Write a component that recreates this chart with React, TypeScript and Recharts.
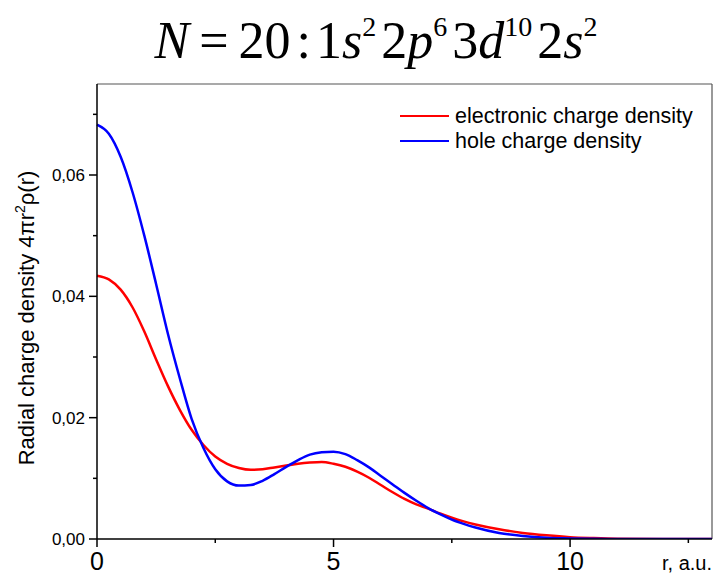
import * as React from 'react';
import { LineChart, Line, XAxis, YAxis, ReferenceLine } from 'recharts';

// r in atomic units
const radius = [
  0, 0.25, 0.5, 0.75, 1, 1.25, 1.5, 1.75, 2, 2.25, 2.5, 2.75, 3, 3.25, 3.5, 3.75,
  4, 4.25, 4.5, 4.75, 5, 5.25, 5.5, 5.75, 6, 6.25, 6.5, 6.75, 7, 7.25, 7.5, 7.75,
  8, 8.5, 9, 9.5, 10, 10.5, 11, 12, 13,
];

const electronDensity = [
  0.0434, 0.0428, 0.0411, 0.0382, 0.0342, 0.0296, 0.0252, 0.0213, 0.018, 0.0155, 0.0136, 0.0124,
  0.0117, 0.0114, 0.0115, 0.0118, 0.0121, 0.0124, 0.0126, 0.0127, 0.0124, 0.0119, 0.0111,
  0.0101, 0.0089, 0.0077, 0.0066, 0.0057, 0.005, 0.0042, 0.0035, 0.0029, 0.0024, 0.0016,
  0.001, 0.0006, 0.0003, 0.00015, 0.00005, 0, 0,
];

const holeDensity = [
  0.0683, 0.0668, 0.063, 0.0572, 0.05, 0.042, 0.0338, 0.0265, 0.0198, 0.015, 0.0115, 0.0095,
  0.0088, 0.0089, 0.0096, 0.0107, 0.0119, 0.013, 0.0139, 0.0143, 0.0144, 0.014, 0.013,
  0.0118, 0.0104, 0.009, 0.0076, 0.0063, 0.0051, 0.0041, 0.0032, 0.0025, 0.0019, 0.001,
  0.0005, 0.0002, 0.0001, 0.00003, 0, 0, 0,
];

const xTicks = [0, 2.5, 5, 7.5, 10, 12.5];
const yTicks = [0, 0.01, 0.02, 0.03, 0.04, 0.05, 0.06, 0.07];

const data = radius.map((r, i) => ({ r, electron: electronDensity[i], hole: holeDensity[i] }));

const FONT = '"Liberation Sans", Arial, sans-serif';
const SERIF = '"Liberation Serif", "Times New Roman", serif';

const XTick = ({ x, y, payload }: any) => {
  const major = payload.value % 5 === 0;
  return (
    <g>
      <line x1={x} y1={y} x2={x} y2={y + (major ? 8 : 4)} stroke="#000" strokeWidth={1.5} />
      {major && (
        <text x={x} y={y + 31} textAnchor="middle" fontSize={25} fontFamily={FONT} fill="#000">
          {payload.value}
        </text>
      )}
    </g>
  );
};

const YTick = ({ x, y, payload }: any) => {
  const major = Math.round(payload.value * 100) % 2 === 0;
  return (
    <g>
      <line x1={x - (major ? 8 : 4)} y1={y} x2={x} y2={y} stroke="#000" strokeWidth={1.5} />
      {major && (
        <text x={x - 12} y={y + 6} textAnchor="end" fontSize={17} fontFamily={FONT} fill="#000">
          {payload.value.toFixed(2).replace('.', ',')}
        </text>
      )}
    </g>
  );
};

export default function App() {
  return (
    <div style={{ position: 'absolute', left: 0, top: 0, width: 717, height: 576, background: '#fff' }}>
      <svg width={717} height={80} style={{ position: 'absolute', left: 0, top: 0 }}>
        <text x={376} y={58} textAnchor="middle" fontFamily={SERIF} fontSize={52} fill="#000">
          <tspan fontStyle="italic">N</tspan>
          <tspan dx={10}>=</tspan>
          <tspan dx={10}>20</tspan>
          <tspan dx={6}>:</tspan>
          <tspan dx={5}>1</tspan>
          <tspan fontStyle="italic">s</tspan>
          <tspan fontSize={28} dy={-22}>2</tspan>
          <tspan dy={22} dx={5}>2</tspan>
          <tspan fontStyle="italic">p</tspan>
          <tspan fontSize={28} dy={-22}>6</tspan>
          <tspan dy={22} dx={5}>3</tspan>
          <tspan fontStyle="italic">d</tspan>
          <tspan fontSize={28} dy={-22}>10</tspan>
          <tspan dy={22} dx={5}>2</tspan>
          <tspan fontStyle="italic">s</tspan>
          <tspan fontSize={28} dy={-22}>2</tspan>
        </text>
      </svg>
      <div style={{ position: 'absolute', left: 0, top: 0 }}>
        <LineChart width={717} height={576} data={data} margin={{ top: 84, right: 5, bottom: 0, left: 0 }}>
          <XAxis
            dataKey="r"
            type="number"
            domain={[0, 13]}
            ticks={xTicks}
            height={37}
            tickSize={0}
            tickMargin={0}
            tickLine={false}
            tick={<XTick />}
            axisLine={{ stroke: '#000', strokeWidth: 1.5 }}
            interval={0}
          />
          <YAxis
            type="number"
            domain={[0, 0.075]}
            ticks={yTicks}
            width={97}
            tickSize={0}
            tickMargin={0}
            tickLine={false}
            tick={<YTick />}
            axisLine={{ stroke: '#000', strokeWidth: 1.5 }}
            interval={0}
            allowDataOverflow
          />
          <ReferenceLine y={0.075} stroke="#555" strokeWidth={1.2} />
          <ReferenceLine x={13} stroke="#555" strokeWidth={1.2} />
          <Line type="monotone" dataKey="electron" stroke="#ff0000" strokeWidth={2.5} dot={false} isAnimationActive={false} />
          <Line type="monotone" dataKey="hole" stroke="#0000ff" strokeWidth={2.5} dot={false} isAnimationActive={false} />
        </LineChart>
      </div>
      <svg width={717} height={576} style={{ position: 'absolute', left: 0, top: 0, pointerEvents: 'none' }}>
        <text
          transform="translate(34, 318) rotate(-90)"
          textAnchor="middle"
          fontFamily={FONT}
          fontSize={22}
          fill="#000"
        >
          Radial charge density 4πr
          <tspan fontSize={14} dy={-9}>2</tspan>
          <tspan dy={9}>ρ(r)</tspan>
        </text>
        <text x={712} y={570} textAnchor="end" fontFamily={FONT} fontSize={20} fill="#000">
          r, a.u.
        </text>
        <line x1={400} y1={116} x2={449} y2={116} stroke="#ff0000" strokeWidth={2} />
        <text x={455} y={123} fontFamily={FONT} fontSize={21.5} fill="#000">
          electronic charge density
        </text>
        <line x1={400} y1={141} x2={449} y2={141} stroke="#0000ff" strokeWidth={2} />
        <text x={455} y={148} fontFamily={FONT} fontSize={21.5} fill="#000">
          hole charge density
        </text>
      </svg>
    </div>
  );
}
